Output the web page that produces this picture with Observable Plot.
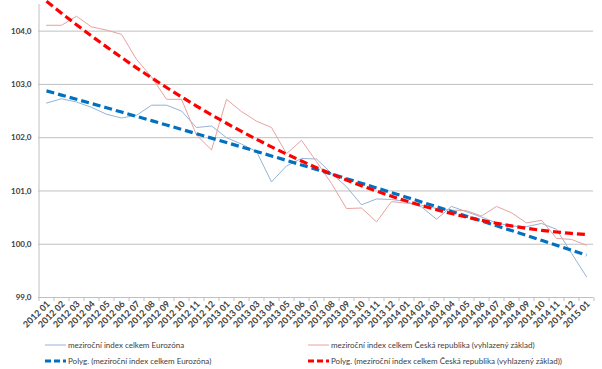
<!DOCTYPE html>
<html><head><meta charset="utf-8">
<script src="https://cdn.jsdelivr.net/npm/d3@7"></script>
<script src="https://cdn.jsdelivr.net/npm/@observablehq/plot@0.6"></script>
<style>
body{margin:0;background:#fff;}
#wrap{position:relative;width:602px;height:369px;overflow:hidden;font-family:Lato,"Open Sans",sans-serif;}
#chart{position:absolute;left:0;top:0;}
.leg{position:absolute;display:flex;align-items:center;font-size:8px;color:#404040;white-space:nowrap;}
.leg svg{margin-right:2px;}
</style></head><body>
<div id="wrap"><div id="chart"></div><div id="legend"></div></div>
<script>
const months = ["2012 01","2012 02","2012 03","2012 04","2012 05","2012 06","2012 07","2012 08","2012 09","2012 10","2012 11","2012 12",
"2013 01","2013 02","2013 03","2013 04","2013 05","2013 06","2013 07","2013 08","2013 09","2013 10","2013 11","2013 12",
"2014 01","2014 02","2014 03","2014 04","2014 05","2014 06","2014 07","2014 08","2014 09","2014 10","2014 11","2014 12","2015 01"];
const eurozone = [102.65,102.73,102.67,102.57,102.44,102.37,102.42,102.61,102.61,102.50,102.19,102.22,
102.00,101.88,101.74,101.17,101.47,101.61,101.60,101.33,101.08,100.74,100.85,100.84,
100.80,100.70,100.47,100.71,100.61,100.51,100.40,100.34,100.33,100.39,100.28,99.83,99.39];
const czech = [104.11,104.11,104.28,104.08,104.02,103.94,103.47,103.14,102.72,102.72,102.05,101.77,
102.72,102.49,102.31,102.19,101.70,101.95,101.55,101.14,100.67,100.68,100.42,100.80,
100.77,100.73,100.67,100.64,100.63,100.53,100.71,100.59,100.40,100.45,100.11,100.09,99.98];
const yTicks = [99,100,101,102,103,104];
const nameEZ = "meziroční index celkem Eurozóna";
const nameCZ = "meziroční index celkem Česká republika (vyhlazený základ)";

// polynomial (order 2) least-squares trendline, as Excel's "Polyg." trendline
function polyFit(ys, order) {
  const n = order + 1;
  const A = Array.from({length:n}, () => new Array(n + 1).fill(0));
  ys.forEach((y, k) => {
    const x = k + 1;
    for (let r = 0; r < n; r++) {
      for (let c = 0; c < n; c++) A[r][c] += Math.pow(x, r + c);
      A[r][n] += y * Math.pow(x, r);
    }
  });
  for (let i = 0; i < n; i++) {
    let p = i;
    for (let r = i + 1; r < n; r++) if (Math.abs(A[r][i]) > Math.abs(A[p][i])) p = r;
    const tmp = A[i]; A[i] = A[p]; A[p] = tmp;
    for (let r = 0; r < n; r++) if (r !== i) {
      const f = A[r][i] / A[i][i];
      for (let c = i; c <= n; c++) A[r][c] -= f * A[i][c];
    }
  }
  const coef = A.map((row, i) => row[n] / row[i]);
  return ys.map((_, k) => coef.reduce((s, a, j) => s + a * Math.pow(k + 1, j), 0));
}
const trendEZ = polyFit(eurozone, 2);
const trendCZ = polyFit(czech, 2);

const rows = months.map((m, i) => ({m, ez: eurozone[i], cz: czech[i], tez: trendEZ[i], tcz: trendCZ[i]}));
const fmt = d => d.toFixed(1).replace(".", ",");
const grid = "#c0c0c0";

const chart = Plot.plot({
  width: 602, height: 334,
  marginLeft: 38, marginRight: 9, marginTop: 4, marginBottom: 37,
  style: {fontFamily: "Lato, 'Open Sans', sans-serif", background: "transparent"},
  x: {type: "point", domain: months, padding: 0.5, label: null},
  y: {domain: [99, 104.5], label: null},
  marks: [
    Plot.ruleY(yTicks.slice(1), {stroke: grid, strokeWidth: 1}),
    Plot.ruleY([99], {stroke: grid, strokeWidth: 1}),
    Plot.ruleX([months[0]], {dx: -7.5, stroke: grid}),
    Plot.axisX({ticks: months, tickSize: 4, tickFormat: () => "", dx: -7.5, stroke: grid, strokeOpacity: 1, label: null}),
    Plot.axisX({ticks: [months[months.length - 1]], tickSize: 4, tickFormat: () => "", dx: 7.5, stroke: grid, strokeOpacity: 1, label: null}),
    Plot.axisX({ticks: months, tickSize: 0, tickPadding: 5, tickRotate: -45, fontSize: 9, fontWeight: "bold", fill: "#404040", dx: 2, label: null}),
    Plot.axisY({ticks: yTicks, tickSize: 0, tickPadding: 7, tickFormat: fmt, fontSize: 8, fontWeight: "bold", fill: "#404040", label: null}),
    Plot.lineY(rows, {x: "m", y: "ez", stroke: "#95b3d7", strokeWidth: 1}),
    Plot.lineY(rows, {x: "m", y: "cz", stroke: "#e6a3a1", strokeWidth: 1}),
    Plot.lineY(rows, {x: "m", y: "tez", stroke: "#0070c0", strokeWidth: 3.2, strokeDasharray: "8,4", strokeLinecap: "butt", clip: false}),
    Plot.lineY(rows, {x: "m", y: "tcz", stroke: "#ff0000", strokeWidth: 3.2, strokeDasharray: "8,4", strokeLinecap: "butt", clip: false})
  ]
});
document.getElementById("chart").appendChild(chart);

const leg = document.getElementById("legend");
function sample(color, width, dash) {
  return `<svg width="21" height="6"><line x1="0" x2="21" y1="3" y2="3" stroke="${color}" stroke-width="${width}" ${dash ? `stroke-dasharray="${dash}"` : ""}/></svg>`;
}
const entries = [
  {x: 45, y: 345, html: sample("#95b3d7", 1) + nameEZ},
  {x: 308, y: 345, html: sample("#e6a3a1", 1) + nameCZ},
  {x: 45, y: 361, html: sample("#0070c0", 3, "6,3") + "Polyg. (" + nameEZ + ")"},
  {x: 308, y: 361, html: sample("#ff0000", 3, "6,3") + "Polyg. (" + nameCZ + ")"}
];
entries.forEach(e => {
  const d = document.createElement("div");
  d.className = "leg";
  d.style.left = e.x + "px";
  d.style.top = (e.y - 6) + "px";
  d.style.height = "12px";
  d.innerHTML = e.html;
  leg.appendChild(d);
});
</script>
</body></html>
